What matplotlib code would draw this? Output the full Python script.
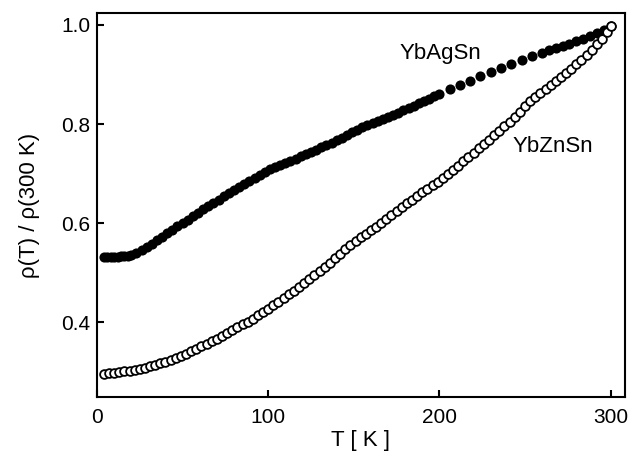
import numpy as np
import matplotlib
matplotlib.use("Agg")
import matplotlib.pyplot as plt

plt.rcParams['font.family'] = ['Liberation Sans', 'DejaVu Sans']

# YbAgSn (filled circles)
T_ag = [4, 6, 8, 10, 12, 14, 16, 18, 20, 23, 26, 29, 32, 35, 38, 41, 44, 47, 50,
        53, 56, 59, 62, 65, 68, 71, 74, 77, 80, 83, 86, 89, 92, 95, 98, 101, 104,
        107, 110, 113, 116, 119, 122, 125, 128, 131, 134, 137, 140, 143, 146, 149,
        152, 155, 158, 161, 164, 167, 170, 173, 176, 179, 182, 185, 188, 191, 194,
        197, 200, 206, 212, 218, 224, 230, 236, 242, 248, 254, 260, 264, 268, 272,
        276, 280, 284, 288, 292, 296, 300]
rho_ag = [0.532, 0.532, 0.533, 0.533, 0.533, 0.534, 0.534, 0.535, 0.537, 0.541,
          0.547, 0.553, 0.559, 0.566, 0.573, 0.580, 0.587, 0.594, 0.600, 0.607,
          0.614, 0.621, 0.628, 0.635, 0.641, 0.648, 0.655, 0.661, 0.668, 0.674,
          0.680, 0.686, 0.692, 0.698, 0.704, 0.709, 0.714, 0.718, 0.722, 0.726,
          0.730, 0.735, 0.739, 0.744, 0.748, 0.753, 0.758, 0.763, 0.768, 0.773,
          0.778, 0.784, 0.789, 0.794, 0.798, 0.802, 0.806, 0.810, 0.814, 0.818,
          0.823, 0.828, 0.833, 0.837, 0.842, 0.847, 0.851, 0.856, 0.861, 0.870,
          0.879, 0.888, 0.897, 0.905, 0.913, 0.921, 0.929, 0.937, 0.944, 0.949,
          0.954, 0.958, 0.962, 0.967, 0.972, 0.978, 0.984, 0.990, 0.998]

# YbZnSn (open circles)
T_zn = [4, 7, 10, 13, 16, 19, 22, 25, 28, 31, 34, 37, 40, 43, 46, 49, 52, 55, 58,
        61, 64, 67, 70, 73, 76, 79, 82, 85, 88, 91, 94, 97, 100, 103, 106, 109,
        112, 115, 118, 121, 124, 127, 130, 133, 136, 139, 142, 145, 148, 151, 154,
        157, 160, 163, 166, 169, 172, 175, 178, 181, 184, 187, 190, 193, 196, 199,
        202, 205, 208, 211, 214, 217, 220, 223, 226, 229, 232, 235, 238, 241, 244,
        247, 250, 253, 256, 259, 262, 265, 268, 271, 274, 277, 280, 283, 286, 289,
        292, 295, 298, 300]
rho_zn = [0.297, 0.298, 0.299, 0.300, 0.302, 0.303, 0.305, 0.307, 0.309, 0.312,
          0.315, 0.318, 0.321, 0.325, 0.329, 0.333, 0.337, 0.342, 0.347, 0.352,
          0.357, 0.362, 0.367, 0.372, 0.378, 0.384, 0.390, 0.396, 0.402, 0.408,
          0.415, 0.421, 0.428, 0.435, 0.442, 0.449, 0.457, 0.464, 0.472, 0.480,
          0.488, 0.496, 0.504, 0.512, 0.521, 0.530, 0.539, 0.548, 0.556, 0.564,
          0.572, 0.579, 0.586, 0.593, 0.601, 0.609, 0.617, 0.625, 0.633, 0.641,
          0.648, 0.656, 0.663, 0.670, 0.677, 0.684, 0.691, 0.699, 0.707, 0.716,
          0.725, 0.734, 0.742, 0.751, 0.760, 0.769, 0.778, 0.787, 0.796, 0.805,
          0.815, 0.825, 0.836, 0.846, 0.855, 0.863, 0.871, 0.879, 0.887, 0.895,
          0.903, 0.912, 0.921, 0.930, 0.940, 0.950, 0.961, 0.972, 0.985, 0.998]

x_ticks = [0, 100, 200, 300]
y_ticks = [0.4, 0.6, 0.8, 1.0]

my_dpi = 100
line_width = 1.5
tick_label = 15
ax_label = 16

fig = plt.figure(figsize=(630/my_dpi, 451/my_dpi), dpi=my_dpi, facecolor='w')
ax = fig.add_axes([0.154, 0.120, 0.838, 0.851])

ax.plot(T_ag, rho_ag, 'o', color='k', markersize=7.3, markeredgewidth=0, zorder=2)
ax.plot(T_zn, rho_zn, 'o', markerfacecolor='w', markeredgecolor='k',
        markersize=6.3, markeredgewidth=1.3, zorder=3)

# curve labels (data coordinates)
ax.text(200.5, 0.943, 'YbAgSn', fontsize=ax_label, ha='center', va='center')
ax.text(266.5, 0.754, 'YbZnSn', fontsize=ax_label, ha='center', va='center')

ax.set_xlim(0, 308.4)
ax.set_ylim(0.25, 1.024)
ax.set_xticks(x_ticks)
ax.set_yticks(y_ticks)
ax.set_yticklabels([f'{v:.1f}' for v in y_ticks])

for axis in ['top', 'bottom', 'left', 'right']:
    ax.spines[axis].set_linewidth(line_width)

ax.tick_params(axis='both', which='major', direction='in', length=5,
               width=line_width, labelsize=tick_label)
ax.tick_params(axis='x', pad=8)
ax.tick_params(axis='y', pad=5)

ax.set_xlabel('T [ K ]', fontsize=ax_label, labelpad=2)
ax.set_ylabel('ρ(T) / ρ(300 K)', fontsize=ax_label, labelpad=15)

plt.savefig('out.png', dpi=my_dpi)
